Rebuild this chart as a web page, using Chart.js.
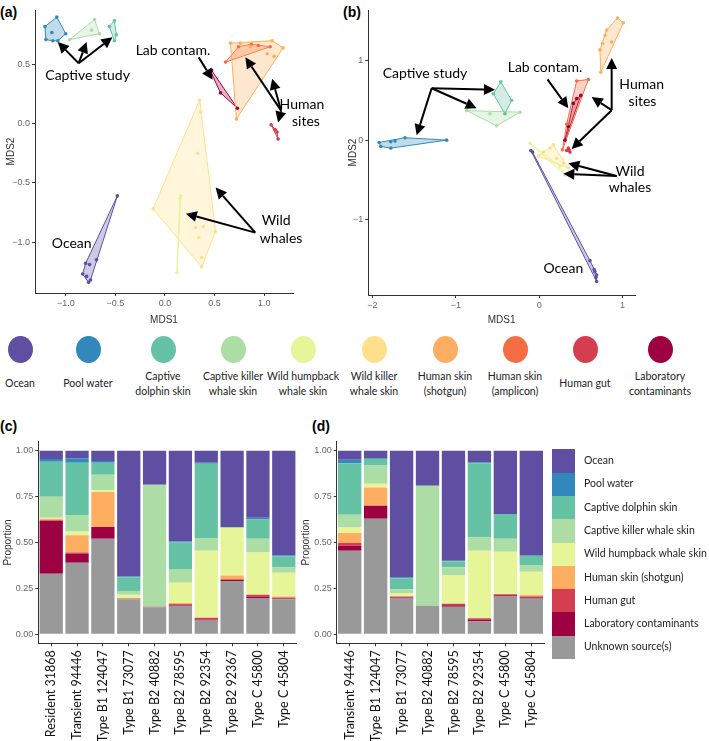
<!DOCTYPE html>
<html>
<head>
<meta charset="utf-8">
<script src="https://cdn.jsdelivr.net/npm/chart.js@4.4.1/dist/chart.umd.min.js"></script>
<style>
  body { margin: 0; background: #fff; width: 709px; height: 741px; position: relative; overflow: hidden; font-family: Lato, "Liberation Sans", sans-serif; }
  canvas { position: absolute; }
  .plab { position: absolute; font: bold 14px "Liberation Sans", Arial, sans-serif; color: #000; }
  .dot { position: absolute; width: 25px; height: 27px; border-radius: 50%; }
  .dotlab { position: absolute; width: 80px; text-align: center; font-size: 10.5px; line-height: 15px; color: #222; }
  .swatch { position: absolute; width: 23px; }
  .swlab { position: absolute; font-size: 10.5px; color: #222; white-space: nowrap; }
</style>
</head>
<body>
<div class="plab" style="left:0px;top:4px">(a)</div>
<div class="plab" style="left:343px;top:4px">(b)</div>
<div class="plab" style="left:0px;top:418px">(c)</div>
<div class="plab" style="left:312px;top:418px">(d)</div>

<canvas id="chartA" width="350" height="326" style="left:0;top:0"></canvas>
<canvas id="chartB" width="369" height="326" style="left:340px;top:0"></canvas>
<canvas id="chartC" width="320" height="321" style="left:0;top:420px"></canvas>
<canvas id="chartD" width="409" height="321" style="left:300px;top:420px"></canvas>
<div id="keys"></div>

<script>
// ---- source groups ----
const groupNames = ['Ocean', 'Pool water', 'Captive dolphin skin', 'Captive killer whale skin',
  'Wild humpback whale skin', 'Wild killer whale skin', 'Human skin (shotgun)',
  'Human skin (amplicon)', 'Human gut', 'Laboratory contaminants'];
const groupKeyLabels = ['Ocean', 'Pool water', 'Captive\ndolphin skin', 'Captive killer\nwhale skin',
  'Wild humpback\nwhale skin', 'Wild killer\nwhale skin', 'Human skin\n(shotgun)',
  'Human skin\n(amplicon)', 'Human gut', 'Laboratory\ncontaminants'];
const groupColors = ['#5e4fa2', '#3288bd', '#66c2a5', '#abdda4', '#e6f598',
  '#fee08b', '#fdae61', '#f46d43', '#d53e4f', '#9e0142'];

// ---- NMDS (a) ----
const oceanA = [[-0.48, -0.61], [-0.69, -1.15], [-0.80, -1.18], [-0.76, -1.19], [-0.83, -1.27], [-0.79, -1.29], [-0.75, -1.32], [-0.77, -1.34]];
const poolA = [[-1.09, 0.90], [-1.00, 0.76], [-1.08, 0.70], [-1.13, 0.70], [-1.20, 0.71], [-1.21, 0.82], [-1.14, 0.77]];
const dolphinA = [[-0.51, 0.87], [-0.49, 0.75], [-0.51, 0.70], [-0.56, 0.82]];
const capKillerA = [[-0.71, 0.88], [-0.66, 0.76], [-0.96, 0.71], [-0.74, 0.79]];
const humpbackA = [[0.16, -0.61], [0.15, -0.63], [0.12, -1.26]];
const wildKillerA = [[0.35, 0.20], [0.36, 0.10], [0.33, -0.25], [-0.12, -0.72], [0.51, -0.91], [0.31, -0.88], [0.39, -0.87], [0.34, -0.96], [0.37, -1.13], [0.37, -1.21]];
const shotgunA = [[0.66, 0.68], [0.76, 0.68], [1.08, 0.70], [1.19, 0.64], [0.86, 0.65], [1.03, 0.59], [1.10, 0.57], [0.72, 0.04]];
const ampliconA = [[0.61, 0.52], [0.74, 0.65], [0.87, 0.67], [0.94, 0.66], [1.06, 0.65]];
const gutA = [[1.07, -0.01], [1.11, -0.05], [1.13, -0.07], [1.14, -0.13]];
const labA = [[0.47, 0.45], [0.46, 0.44], [0.56, 0.26], [0.73, 0.13]];

// ---- NMDS (b) ----
const oceanB = [[-0.10, -0.13], [-0.08, -0.15], [0.61, -1.51], [0.66, -1.62], [0.67, -1.65], [0.69, -1.69], [0.69, -1.77], [0.68, -1.72]];
const poolB = [[-1.92, -0.03], [-1.90, -0.08], [-1.78, -0.02], [-1.73, -0.01], [-1.61, 0.03], [-1.11, 0.0], [-1.78, -0.10]];
const dolphinB = [[-0.46, 0.73], [-0.33, 0.50], [-0.41, 0.33], [-0.55, 0.58]];
const capKillerB = [[-0.87, 0.37], [-0.23, 0.35], [-0.51, 0.18], [-0.59, 0.33], [-0.41, 0.33]];
const humpbackB = [[-0.11, -0.04], [0.31, -0.44], [0.25, -0.33]];
const wildKillerB = [[0.17, -0.06], [0.05, -0.15], [-0.01, -0.20], [0.35, -0.35], [0.29, -0.29], [0.21, -0.23], [0.13, -0.10]];
const shotgunB = [[0.94, 1.53], [1.01, 1.47], [0.87, 1.23], [0.74, 0.85], [0.73, 1.13], [0.79, 1.31], [0.81, 1.38], [0.76, 1.21]];
const ampliconB = [[0.45, 0.74], [0.59, 0.76], [0.28, -0.12], [0.33, 0.20]];
const gutB = [[0.35, -0.10], [0.37, -0.15], [0.33, -0.13], [0.36, -0.12]];
const labB = [[0.50, 0.56], [0.41, 0.46], [0.35, 0.17], [0.31, 0.0], [0.45, 0.52]];

// ---- source proportions (c) ----
const samplesC = ['Resident 31868', 'Transient 94446', 'Type B1 124047', 'Type B1 73077', 'Type B2 40882',
  'Type B2 78595', 'Type B2 92354', 'Type B2 92367', 'Type C 45800', 'Type C 45804'];
const unknownC  = [0.33, 0.39, 0.52, 0.19, 0.145, 0.155, 0.075, 0.29, 0.195, 0.19];
const labC      = [0.29, 0.05, 0.065, 0, 0, 0.005, 0.005, 0.005, 0.01, 0.005];
const gutC      = [0, 0.005, 0, 0.005, 0.005, 0.005, 0.01, 0.005, 0.01, 0.005];
const shotgunC  = [0.01, 0.095, 0.19, 0, 0, 0.005, 0, 0.02, 0, 0.005];
const humpbackC = [0.005, 0.02, 0.01, 0.02, 0, 0.11, 0.365, 0.26, 0.23, 0.13];
const capKillerC = [0.115, 0.09, 0.085, 0.02, 0.665, 0.075, 0.07, 0, 0.075, 0.03];
const dolphinC  = [0.19, 0.285, 0.065, 0.075, 0, 0.145, 0.405, 0.005, 0.105, 0.06];
const poolC     = [0.015, 0.025, 0.01, 0.005, 0, 0.005, 0.005, 0, 0.01, 0.005];
const oceanC    = [0.045, 0.04, 0.055, 0.685, 0.185, 0.495, 0.065, 0.415, 0.365, 0.57];

// ---- source proportions (d) ----
const samplesD = ['Transient 94446', 'Type B1 124047', 'Type B1 73077', 'Type B2 40882',
  'Type B2 78595', 'Type B2 92354', 'Type C 45800', 'Type C 45804'];
const unknownD  = [0.455, 0.63, 0.195, 0.155, 0.15, 0.07, 0.205, 0.195];
const labD      = [0.027, 0.07, 0.005, 0, 0.008, 0.01, 0.007, 0.006];
const gutD      = [0.015, 0, 0.005, 0, 0.008, 0.007, 0.006, 0.005];
const shotgunD  = [0.055, 0.10, 0, 0, 0, 0, 0, 0.007];
const humpbackD = [0.03, 0.02, 0.02, 0, 0.154, 0.368, 0.232, 0.127];
const capKillerD = [0.07, 0.10, 0.02, 0.655, 0.045, 0.073, 0.07, 0.037];
const dolphinD  = [0.28, 0.035, 0.06, 0, 0.033, 0.405, 0.135, 0.051];
const poolD     = [0.02, 0.005, 0.005, 0, 0.002, 0.005, 0, 0];
const oceanD    = [0.048, 0.04, 0.69, 0.19, 0.60, 0.062, 0.345, 0.572];

const barSources = ['Ocean', 'Pool water', 'Captive dolphin skin', 'Captive killer whale skin',
  'Wild humpback whale skin', 'Human skin (shotgun)', 'Human gut', 'Laboratory contaminants', 'Unknown source(s)'];
const barColors = ['#5e4fa2', '#3288bd', '#66c2a5', '#abdda4', '#e6f598', '#fdae61', '#d53e4f', '#9e0142', '#999999'];

// --- helpers ---
function hull(pts) {
  // monotone chain convex hull, closed
  const p = pts.slice().sort((a, b) => a[0] - b[0] || a[1] - b[1]);
  const cross = (o, a, b) => (a[0] - o[0]) * (b[1] - o[1]) - (a[1] - o[1]) * (b[0] - o[0]);
  const lower = [], upper = [];
  p.forEach(q => { while (lower.length >= 2 && cross(lower[lower.length - 2], lower[lower.length - 1], q) <= 0) lower.pop(); lower.push(q); });
  p.slice().reverse().forEach(q => { while (upper.length >= 2 && cross(upper[upper.length - 2], upper[upper.length - 1], q) <= 0) upper.pop(); upper.push(q); });
  const h = lower.slice(0, -1).concat(upper.slice(0, -1));
  h.push(h[0]);
  return h;
}
const hexA = (hex, a) => {
  const n = parseInt(hex.slice(1), 16);
  return `rgba(${n >> 16},${(n >> 8) & 255},${n & 255},${a})`;
};
const toXY = pts => pts.map(p => ({ x: p[0], y: p[1] }));

function nmdsDatasets(groups) {
  const ds = [];
  groups.forEach((pts, i) => {
    const c = groupColors[i];
    ds.push({ data: toXY(hull(pts)), showLine: true, fill: 'shape', tension: 0,
      borderColor: c, borderWidth: 1, backgroundColor: hexA(c, 0.3), pointRadius: 0, order: 2 });
    ds.push({ data: toXY(pts), showLine: false, pointRadius: 1.8, pointBorderWidth: 0,
      pointBackgroundColor: c, backgroundColor: c, order: 1 });
  });
  return ds;
}

function drawArrow(ctx, x0, y0, x1, y1) {
  const ang = Math.atan2(y1 - y0, x1 - x0);
  const L = 11, W = 5.5;
  const bx = x1 - L * Math.cos(ang), by = y1 - L * Math.sin(ang);
  ctx.beginPath(); ctx.moveTo(x0, y0); ctx.lineTo(bx, by); ctx.stroke();
  ctx.beginPath();
  ctx.moveTo(x1, y1);
  ctx.lineTo(bx + W * Math.sin(ang), by - W * Math.cos(ang));
  ctx.lineTo(bx - W * Math.sin(ang), by + W * Math.cos(ang));
  ctx.closePath(); ctx.fill();
}

const annotPlugin = {
  id: 'annot',
  afterDatasetsDraw(chart, args, opts) {
    const { ctx } = chart, sx = chart.scales.x, sy = chart.scales.y;
    ctx.save();
    ctx.strokeStyle = '#000'; ctx.fillStyle = '#000'; ctx.lineWidth = 2;
    (opts.arrows || []).forEach(a => {
      const x0 = sx.getPixelForValue(a.from[0]), y0 = sy.getPixelForValue(a.from[1]);
      a.to.forEach(t => drawArrow(ctx, x0, y0, sx.getPixelForValue(t[0]), sy.getPixelForValue(t[1])));
    });
    ctx.font = '14px Lato, "Liberation Sans", sans-serif';
    ctx.textAlign = 'center'; ctx.textBaseline = 'middle';
    (opts.labels || []).forEach(l => ctx.fillText(l.text, sx.getPixelForValue(l.x), sy.getPixelForValue(l.y)));
    ctx.restore();
  }
};

const tickFont = { family: '"Liberation Sans", Arial, sans-serif', size: 9 };
const titleFont = { family: '"Liberation Sans", Arial, sans-serif', size: 10 };
const axisCommon = (extra) => Object.assign({
  grid: { drawOnChartArea: false, drawTicks: true, tickLength: 3, color: '#333', offset: false },
  border: { display: true, color: '#333', width: 1 },
}, extra);

function nmdsChart(id, groups, pad, yW, xH, xr, yr, fmt, annot) {
  new Chart(document.getElementById(id), {
    type: 'scatter',
    data: { datasets: nmdsDatasets(groups) },
    options: {
      responsive: false, animation: false,
      layout: { padding: pad },
      plugins: { legend: { display: false }, tooltip: { enabled: false }, annot: annot },
      scales: {
        x: axisCommon({ type: 'linear', min: xr[0], max: xr[1],
          ticks: { stepSize: xr[2], includeBounds: false, color: '#666', font: tickFont, padding: 2, callback: fmt, maxRotation: 0 },
          title: { display: true, text: 'MDS1', color: '#333', font: titleFont, padding: 0 },
          afterFit: s => { s.height = xH; } }),
        y: axisCommon({ type: 'linear', min: yr[0], max: yr[1],
          ticks: { stepSize: yr[2], includeBounds: false, color: '#666', font: tickFont, padding: 2, callback: fmt },
          title: { display: true, text: 'MDS2', color: '#333', font: titleFont, padding: 0 },
          afterFit: s => { s.width = yW; } })
      }
    },
    plugins: [annotPlugin]
  });
}

const fmt1 = v => v.toFixed(1).replace('-', '\u2212');
const fmt0 = v => String(Math.round(v)).replace('-', '\u2212');

nmdsChart('chartA',
  [oceanA, poolA, dolphinA, capKillerA, humpbackA, wildKillerA, shotgunA, ampliconA, gutA, labA],
  { left: 5, top: 10, right: 57, bottom: 0 }, 30, 33, [-1.31, 1.29, 0.5], [-1.43, 0.96, 0.5], fmt1,
  {
    arrows: [
      { from: [-0.87, 0.51], to: [[-1.08, 0.69], [-0.79, 0.69], [-0.53, 0.73]] },
      { from: [0.34, 0.56], to: [[0.48, 0.37]] },
      { from: [1.17, 0.11], to: [[0.81, 0.56], [1.08, 0.38], [1.14, 0.01]] },
      { from: [0.91, -0.92], to: [[0.21, -0.76], [0.51, -0.54]] }
    ],
    labels: [
      { text: 'Captive study', x: -0.78, y: 0.41 },
      { text: 'Lab contam.', x: 0.08, y: 0.62 },
      { text: 'Human', x: 1.38, y: 0.16 }, { text: 'sites', x: 1.42, y: 0.02 },
      { text: 'Wild', x: 1.12, y: -0.82 }, { text: 'whales', x: 1.17, y: -0.97 },
      { text: 'Ocean', x: -0.94, y: -1.01 }
    ]
  });

nmdsChart('chartB',
  [oceanB, poolB, dolphinB, capKillerB, humpbackB, wildKillerB, shotgunB, ampliconB, gutB, labB],
  { left: 7, top: 10, right: 74, bottom: 0 }, 21.3, 31, [-2.05, 1.15, 1], [-1.94, 1.63, 1], fmt0,
  {
    arrows: [
      { from: [-1.29, 0.65], to: [[-0.53, 0.63], [-0.75, 0.40], [-1.47, 0.06]] },
      { from: [0.10, 0.76], to: [[0.35, 0.40]] },
      { from: [0.87, 0.375], to: [[0.87, 1.03], [0.63, 0.54], [0.39, -0.11]] },
      { from: [0.93, -0.45], to: [[0.35, -0.29], [0.29, -0.42]] }
    ],
    labels: [
      { text: 'Captive study', x: -1.37, y: 0.84 },
      { text: 'Lab contam.', x: 0.07, y: 0.91 },
      { text: 'Human', x: 1.23, y: 0.70 }, { text: 'sites', x: 1.24, y: 0.49 },
      { text: 'Wild', x: 1.09, y: -0.39 }, { text: 'whales', x: 1.09, y: -0.59 },
      { text: 'Ocean', x: 0.29, y: -1.61 }
    ]
  });

function barChart(id, labels, series, pad, yW) {
  const datasets = series.map((vals, i) => ({
    label: barSources[8 - i], data: vals, backgroundColor: barColors[8 - i],
    borderWidth: 0, barPercentage: 0.9, categoryPercentage: 1.0
  }));
  new Chart(document.getElementById(id), {
    type: 'bar',
    data: { labels: labels, datasets: datasets },
    options: {
      responsive: false, animation: false,
      layout: { padding: pad },
      plugins: { legend: { display: false }, tooltip: { enabled: false } },
      scales: {
        x: axisCommon({ stacked: true,
          ticks: { autoSkip: false, minRotation: 90, maxRotation: 90, color: '#111', padding: 4,
            font: { family: 'Lato, "Liberation Sans", sans-serif', size: 12.5 } },
          afterFit: s => { s.height = 97.7; } }),
        y: axisCommon({ stacked: true, min: -0.05, max: 1.05,
          ticks: { stepSize: 0.25, includeBounds: false, color: '#666', font: tickFont, padding: 2, callback: v => v.toFixed(2) },
          title: { display: true, text: 'Proportion', color: '#333', font: titleFont, padding: 0 },
          afterFit: s => { s.width = yW; } })
      }
    }
  });
}

// bottom of the stack first: unknown ... ocean on top
barChart('chartC', samplesC, [unknownC, labC, gutC, shotgunC, humpbackC, capKillerC, dolphinC, poolC, oceanC],
  { left: 2, top: 21.7, right: 23.3, bottom: 0 }, 36.3);
barChart('chartD', samplesD, [unknownD, labD, gutD, shotgunD, humpbackD, capKillerD, dolphinD, poolD, oceanD],
  { left: 0, top: 21.7, right: 164.7, bottom: 0 }, 36.7);

// --- group key row between the panels ---
const keys = document.getElementById('keys');
const keyX = [20, 88, 163, 233, 303, 374, 445, 515, 585, 660];
groupNames.forEach((name, i) => {
  const d = document.createElement('div');
  d.className = 'dot';
  d.style.background = groupColors[i];
  d.style.left = (keyX[i] - 12.5) + 'px'; d.style.top = '336px';
  d.title = name;
  keys.appendChild(d);
  const t = document.createElement('div');
  t.className = 'dotlab';
  const lines = groupKeyLabels[i].split('\n');
  t.innerHTML = lines.join('<br>');
  t.style.left = (keyX[i] - 40) + 'px';
  t.style.top = (lines.length === 1 ? 376 : 369) + 'px';
  keys.appendChild(t);
});

// --- legend for (c)/(d) ---
barSources.forEach((name, i) => {
  const s = document.createElement('div');
  s.className = 'swatch';
  s.style.background = barColors[i];
  s.style.left = '551.7px'; s.style.top = (449.3 + i * 23.3) + 'px'; s.style.height = '23.4px';
  keys.appendChild(s);
  const t = document.createElement('div');
  t.className = 'swlab';
  t.textContent = name;
  t.style.left = '584px'; t.style.top = (454 + i * 23.3) + 'px';
  keys.appendChild(t);
});
</script>
</body>
</html>
